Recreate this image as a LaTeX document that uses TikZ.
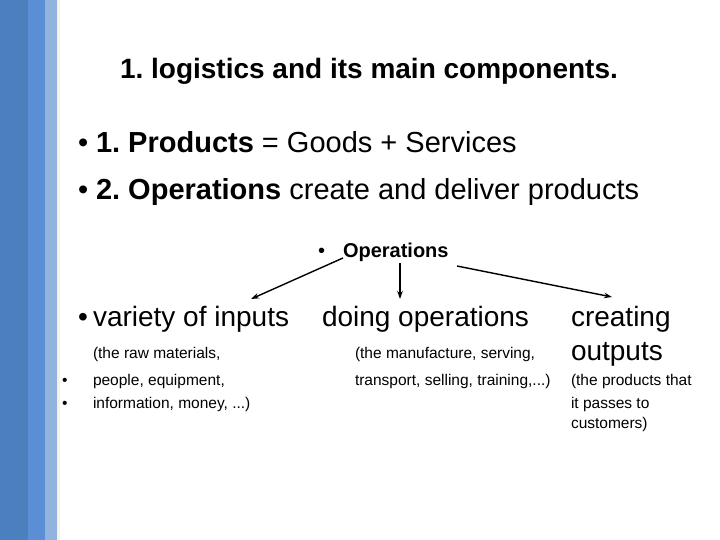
\documentclass[tikz,border=0pt]{standalone}
\usepackage{fontspec}
\setmainfont{Liberation Sans}
\usetikzlibrary{arrows.meta}
\frenchspacing
\definecolor{barA}{HTML}{4C7FBE}
\definecolor{barB}{HTML}{5A8FD6}
\definecolor{barC}{HTML}{93B3DF}
\definecolor{barD}{HTML}{F4F2E4}
\tikzset{
  txt/.style={anchor=base west, inner sep=0pt, outer sep=0pt},
  big/.style={txt, font=\fontsize{28}{32}\selectfont},
  bigb/.style={txt, font=\fontsize{29}{33}\selectfont},
  small/.style={txt, font=\fontsize{15.5}{18}\selectfont},
  arr/.style={-{Stealth[length=8pt,width=5.5pt]}, line width=1.4pt, black}
}
\begin{document}
\begin{tikzpicture}[x=1pt,y=-1pt]
\useasboundingbox (0,0) rectangle (720,540);
\fill[white] (0,0) rectangle (720,540);
% left bars
\fill[barA] (0,0) rectangle (28,540);
\fill[barB] (28,0) rectangle (45,540);
\fill[barC] (45,0) rectangle (57,540);
\fill[barD] (57,0) rectangle (59.5,540);
% title
\node[txt, font=\fontsize{28}{32}\selectfont\bfseries] (title) at (120,79) {1. logistics and its main components.};
% bullet lines
\node[bigb] (b1) at (78,153) {•};
\node[bigb] (l1) at (96,153) {\textbf{1. Products} = Goods + Services};
\node[bigb] (b2) at (78,200) {•};
\node[bigb] (l2) at (96,200) {\textbf{2. Operations} create and deliver products};
% operations
\node[txt, font=\fontsize{20}{24}\selectfont] (bo) at (318,257) {•};
\node[txt, font=\fontsize{20}{24}\selectfont\bfseries] (ops) at (343,257) {Operations};
% three columns
\node[big] (b3) at (78,326) {•};
\node[big] (inputs) at (93,326) {variety of inputs};
\node[big] (doing) at (322,326) {doing operations};
\node[big] (creating) at (571,326) {creating};
\node[big] (outputs) at (571,360) {outputs};
% small texts
\node[small] (i1) at (93,358) {(the raw materials,};
\node[small] (bp) at (62,385) {•};
\node[small] (i2) at (93,385) {people, equipment,};
\node[small] (bi) at (62,408) {•};
\node[small] (i3) at (93,408) {information, money, ...)};
\node[small] (d1) at (355,358) {(the manufacture, serving,};
\node[small] (d2) at (355,385) {transport, selling, training,...)};
\node[small] (o1) at (571,385) {(the products that};
\node[small] (o2) at (571,408) {it passes to};
\node[small] (o3) at (571,428) {customers)};
% arrows
\coordinate (sL) at (343,258);
\coordinate (eL) at (251,299);
\coordinate (sM) at (400,263);
\coordinate (eM) at (400,299);
\coordinate (sR) at (457,266);
\coordinate (eR) at (612,297);
\draw[arr] (sL) -- (eL);
\draw[arr] (sM) -- (eM);
\draw[arr] (sR) -- (eR);
\end{tikzpicture}
\end{document}
